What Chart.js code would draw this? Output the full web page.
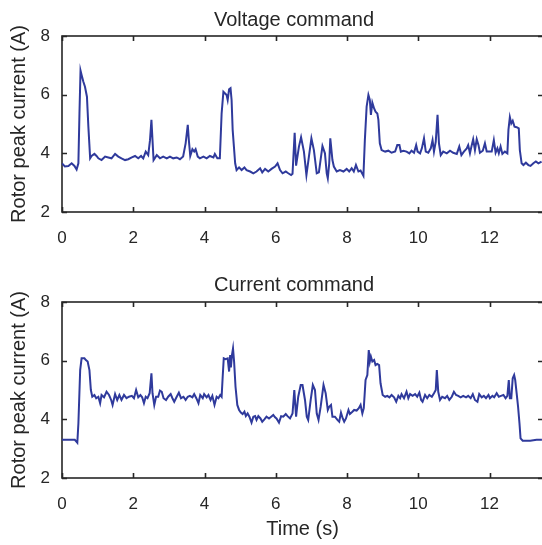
<!DOCTYPE html>
<html>
<head>
<meta charset="utf-8">
<script src="https://cdn.jsdelivr.net/npm/chart.js@4/dist/chart.umd.min.js"></script>
<style>
  html, body { margin: 0; padding: 0; background: #fff; width: 542px; height: 545px; overflow: hidden; }
  canvas { position: absolute; left: 0; }
  #c1 { top: 0; }
  #c2 { top: 260px; }
</style>
</head>
<body>
<canvas id="c1" width="588" height="260"></canvas>
<canvas id="c2" width="588" height="285"></canvas>
<script>
// ---- Data ----
const xTicks = [0, 2, 4, 6, 8, 10, 12];
const yTicks = [2, 4, 6, 8];
const titles = ["Voltage command", "Current command"];
const yLabel = "Rotor peak current (A)";
const xLabel = "Time (s)";

const voltageTime = [0.00,0.08,0.18,0.27,0.35,0.41,0.46,0.49,0.52,0.55,0.60,0.645,0.70,0.74,0.79,0.83,0.91,0.97,1.02,1.11,1.21,1.30,1.39,1.49,1.58,1.67,1.77,1.86,1.96,2.05,2.14,2.22,2.28,2.35,2.42,2.47,2.51,2.54,2.57,2.66,2.75,2.84,2.94,3.03,3.12,3.22,3.31,3.40,3.47,3.53,3.56,3.60,3.66,3.71,3.75,3.81,3.87,3.97,4.06,4.15,4.25,4.29,4.36,4.43,4.48,4.53,4.57,4.62,4.65,4.69,4.73,4.76,4.79,4.86,4.90,4.97,5.04,5.12,5.18,5.28,5.37,5.46,5.56,5.62,5.70,5.79,5.88,5.98,6.05,6.12,6.19,6.28,6.35,6.43,6.47,6.53,6.57,6.65,6.71,6.79,6.86,6.93,7.00,7.07,7.15,7.21,7.27,7.31,7.38,7.43,7.46,7.50,7.53,7.59,7.63,7.71,7.80,7.90,7.99,8.06,8.13,8.19,8.25,8.32,8.38,8.46,8.50,8.55,8.60,8.64,8.67,8.71,8.76,8.80,8.85,8.88,8.92,8.97,9.07,9.16,9.25,9.35,9.41,9.47,9.51,9.58,9.67,9.75,9.81,9.88,9.94,9.98,10.05,10.10,10.16,10.21,10.28,10.35,10.40,10.44,10.49,10.54,10.58,10.63,10.70,10.80,10.89,10.98,11.08,11.15,11.21,11.28,11.36,11.40,11.45,11.50,11.54,11.59,11.64,11.69,11.73,11.81,11.87,11.92,11.99,12.06,12.12,12.17,12.22,12.26,12.31,12.36,12.43,12.50,12.53,12.57,12.61,12.65,12.70,12.76,12.82,12.85,12.90,12.95,13.02,13.09,13.15,13.23,13.30,13.37,13.46];
const voltageCurrent = [3.66,3.55,3.57,3.66,3.57,3.45,3.66,5.36,6.82,6.67,6.44,6.27,5.93,4.91,3.83,3.91,3.98,3.91,3.83,3.77,3.89,3.86,3.83,3.98,3.89,3.83,3.77,3.80,3.86,3.91,3.83,3.91,3.83,4.06,3.94,4.45,5.14,4.45,3.77,3.94,3.83,3.89,3.83,3.89,3.83,3.86,3.80,3.89,4.34,4.97,4.45,3.91,4.14,4.06,4.14,3.89,3.83,3.89,3.83,3.91,3.86,3.98,3.83,3.83,5.36,6.10,6.05,5.99,5.82,6.18,6.22,5.82,4.80,3.66,3.43,3.52,3.43,3.52,3.43,3.38,3.32,3.38,3.49,3.35,3.47,3.38,3.47,3.55,3.66,3.43,3.32,3.38,3.32,3.26,3.30,4.70,3.58,4.23,4.55,4.06,3.26,3.89,4.51,4.11,3.32,3.35,3.89,4.25,4.00,3.32,3.15,3.66,4.51,3.77,3.55,3.38,3.43,3.38,3.47,3.38,3.49,3.38,3.60,3.38,3.41,3.23,4.45,5.59,5.99,5.82,5.31,5.73,5.53,5.42,5.36,5.14,4.34,4.11,4.06,4.09,4.02,4.06,4.28,4.28,4.06,4.09,4.06,4.00,4.09,4.02,4.28,4.06,4.00,4.17,4.51,4.06,4.02,4.17,4.45,4.06,4.40,5.31,4.34,3.94,4.06,4.00,4.09,4.02,3.98,4.23,3.94,4.06,4.17,4.28,4.00,4.28,4.48,4.11,4.48,4.28,4.02,4.09,4.34,4.06,4.06,4.06,4.45,4.02,4.17,4.00,4.23,3.98,4.06,4.00,4.80,5.23,5.02,5.11,4.91,4.89,4.85,4.11,3.66,3.60,3.68,3.60,3.57,3.66,3.72,3.66,3.72];

const currentTime = [0.00,0.18,0.36,0.43,0.46,0.51,0.55,0.63,0.67,0.72,0.77,0.81,0.85,0.91,0.96,1.02,1.07,1.11,1.18,1.25,1.32,1.38,1.42,1.49,1.55,1.61,1.67,1.74,1.81,1.88,1.96,2.02,2.08,2.14,2.20,2.25,2.30,2.35,2.40,2.46,2.51,2.54,2.59,2.64,2.70,2.75,2.80,2.85,2.92,2.98,3.05,3.10,3.15,3.22,3.28,3.34,3.41,3.47,3.53,3.59,3.66,3.71,3.77,3.83,3.88,3.95,3.99,4.06,4.11,4.17,4.22,4.28,4.34,4.39,4.44,4.48,4.51,4.54,4.59,4.65,4.69,4.72,4.74,4.77,4.80,4.83,4.87,4.92,4.97,5.02,5.07,5.12,5.16,5.21,5.26,5.32,5.37,5.42,5.46,5.51,5.57,5.62,5.68,5.74,5.81,5.87,5.93,5.98,6.02,6.09,6.15,6.21,6.28,6.33,6.40,6.47,6.52,6.57,6.63,6.70,6.75,6.82,6.87,6.91,6.98,7.04,7.10,7.15,7.20,7.26,7.34,7.40,7.46,7.50,7.55,7.59,7.66,7.73,7.78,7.83,7.88,7.92,7.97,8.04,8.08,8.15,8.20,8.27,8.33,8.38,8.43,8.47,8.52,8.57,8.61,8.64,8.67,8.71,8.76,8.80,8.85,8.90,8.94,9.00,9.07,9.13,9.19,9.25,9.32,9.38,9.44,9.49,9.53,9.60,9.67,9.72,9.77,9.84,9.91,9.97,10.03,10.08,10.12,10.19,10.25,10.31,10.38,10.44,10.49,10.52,10.56,10.61,10.67,10.75,10.81,10.87,10.94,11.00,11.06,11.12,11.19,11.26,11.34,11.40,11.47,11.53,11.59,11.66,11.71,11.78,11.84,11.90,11.97,12.01,12.08,12.13,12.20,12.26,12.32,12.39,12.45,12.50,12.54,12.57,12.61,12.65,12.69,12.72,12.76,12.80,12.84,12.87,12.93,13.14,13.32,13.47];
const currentCurrent = [3.30,3.30,3.30,3.20,3.86,5.68,6.08,6.08,6.02,5.97,5.68,5.00,4.77,4.83,4.72,4.77,4.55,4.83,4.75,4.94,4.83,4.66,4.49,4.86,4.66,4.83,4.66,4.83,4.72,4.77,4.80,4.72,5.00,4.75,4.83,4.75,4.55,4.77,4.72,4.89,5.57,4.89,4.49,4.77,4.77,4.98,4.94,4.72,4.66,4.77,4.86,4.72,4.60,4.77,4.91,4.72,4.77,4.66,4.77,4.80,4.75,4.86,4.72,4.55,4.83,4.72,4.86,4.75,4.83,4.66,4.80,4.49,4.77,4.72,4.83,4.77,5.45,6.08,6.05,6.08,5.63,6.19,5.77,6.19,6.42,5.97,5.11,4.49,4.32,4.23,4.18,4.26,4.11,4.20,4.09,3.89,4.09,4.11,3.98,4.11,4.03,3.92,4.00,4.09,4.03,4.09,4.15,4.07,4.03,3.89,4.11,4.09,4.18,4.11,4.03,4.20,5.00,4.09,4.77,5.17,5.17,4.66,4.09,3.98,4.66,5.17,5.00,4.20,3.98,4.43,5.17,4.89,4.32,4.43,4.49,4.09,4.09,3.98,3.92,4.23,4.03,3.92,4.03,4.32,4.18,4.26,4.32,4.30,4.38,4.49,4.20,4.38,5.34,5.51,6.36,5.97,6.14,5.97,6.02,5.85,5.89,5.85,5.23,4.83,4.77,4.80,4.75,4.83,4.75,4.60,4.80,4.72,4.86,4.72,4.94,4.72,4.86,4.80,4.86,4.77,4.91,4.66,4.60,4.83,4.72,4.83,4.77,4.89,5.00,5.68,4.94,4.66,4.77,4.72,4.80,4.66,4.77,4.94,4.83,4.80,4.75,4.80,4.75,4.80,4.72,4.86,4.66,4.60,4.86,4.75,4.80,4.72,4.83,4.72,4.80,4.75,4.89,4.77,4.80,4.83,4.72,4.80,5.34,4.72,4.72,5.40,5.51,5.34,4.89,4.43,3.86,3.35,3.27,3.27,3.30,3.30];

// ---- Styling ----
const AXIS_COLOR = '#262626';
const LINE_COLOR = '#2f3a9c';
const FONT = '"Liberation Sans", Arial, Helvetica, sans-serif';

const boxPlugin = {
  id: 'matlabBox',
  beforeDatasetsDraw(chart) {
    const {ctx, chartArea: a} = chart;
    const xs = chart.scales.x, ys = chart.scales.y;
    ctx.save();
    ctx.strokeStyle = AXIS_COLOR;
    ctx.lineWidth = 1.6;
    ctx.strokeRect(a.left, a.top, a.right - a.left, a.bottom - a.top);
    ctx.lineWidth = 1.6;
    const tl = 5;
    ctx.beginPath();
    xs.ticks.forEach(t => {
      const px = Math.round(xs.getPixelForValue(t.value)) + 0.5;
      ctx.moveTo(px, a.bottom); ctx.lineTo(px, a.bottom - tl);
      ctx.moveTo(px, a.top); ctx.lineTo(px, a.top + tl);
    });
    ys.ticks.forEach(t => {
      const py = Math.round(ys.getPixelForValue(t.value)) + 0.5;
      ctx.moveTo(a.left, py); ctx.lineTo(a.left + tl, py);
      ctx.moveTo(a.right, py); ctx.lineTo(a.right - tl, py);
    });
    ctx.stroke();
    ctx.restore();
  }
};

function makeChart(id, times, values, title, cfg) {
  const pts = times.map((t, i) => ({x: t, y: values[i]}));
  return new Chart(document.getElementById(id), {
    type: 'line',
    data: { datasets: [{ data: pts, borderColor: LINE_COLOR, borderWidth: 2, pointRadius: 0, tension: 0, fill: false }] },
    options: {
      responsive: false,
      animation: false,
      devicePixelRatio: 1,
      layout: { padding: { left: 0, right: 0, top: 0, bottom: 0 } },
      plugins: {
        legend: { display: false },
        tooltip: { enabled: false },
        title: {
          display: true, text: title, color: AXIS_COLOR,
          font: { family: FONT, size: 20, weight: 'normal', lineHeight: 1.2 },
          padding: { top: cfg.titleTop, bottom: cfg.titleBottom }
        }
      },
      scales: {
        x: {
          type: 'linear', min: 0, max: 13.5,
          afterBuildTicks: s => { s.ticks = xTicks.map(v => ({value: v})); },
          afterFit: s => { s.height = cfg.xHeight; },
          grid: { display: false, drawTicks: false },
          border: { display: false },
          ticks: { color: AXIS_COLOR, padding: 16, font: { family: FONT, size: 17 }, maxRotation: 0 },
          title: cfg.showX ? { display: true, text: xLabel, color: AXIS_COLOR, font: { family: FONT, size: 20 }, padding: { top: 0, bottom: 4 } } : { display: false }
        },
        y: {
          type: 'linear', min: 2, max: 8, position: 'left',
          afterBuildTicks: s => { s.ticks = yTicks.map(v => ({value: v})); },
          afterFit: s => { s.width = 62; },
          grid: { display: false, drawTicks: false },
          border: { display: false },
          ticks: { color: AXIS_COLOR, padding: 12, font: { family: FONT, size: 17 } },
          title: { display: true, text: yLabel, color: AXIS_COLOR, font: { family: FONT, size: 20 }, padding: { top: 7.5, bottom: 0 } }
        },
        yRight: {
          type: 'linear', position: 'right', display: true,
          afterFit: s => { s.width = 45; },
          grid: { display: false, drawTicks: false },
          border: { display: false },
          ticks: { display: false }
        }
      }
    },
    plugins: [boxPlugin]
  });
}

makeChart('c1', voltageTime, voltageCurrent, titles[0], { titleTop: 8, titleBottom: 4, xHeight: 48, showX: false });
makeChart('c2', currentTime, currentCurrent, titles[1], { titleTop: 13.3, titleBottom: 4.7, xHeight: 67, showX: true });
</script>
</body>
</html>
